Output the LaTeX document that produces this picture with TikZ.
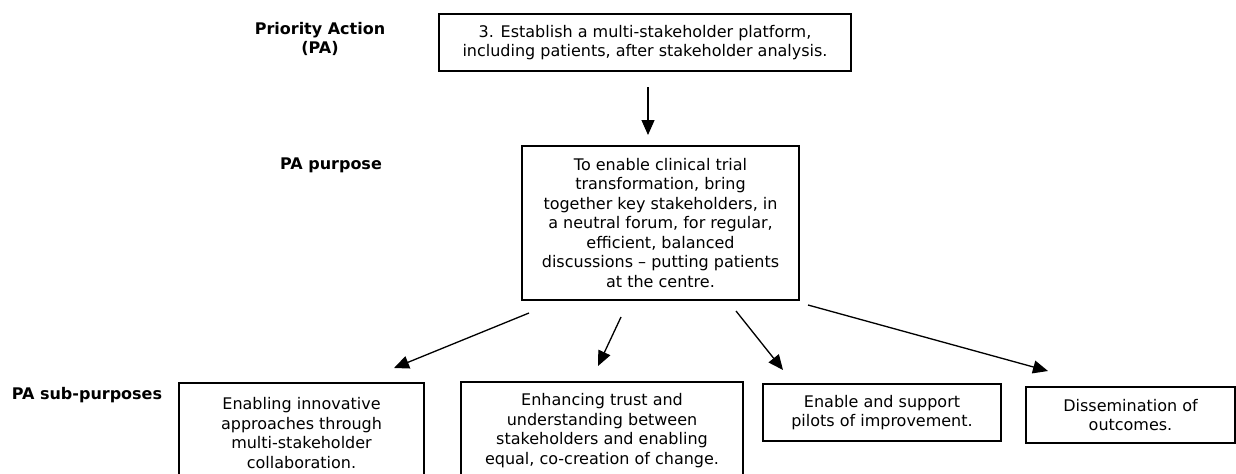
\documentclass[tikz,border=0pt]{standalone}
\usepackage{fontspec}
\setmainfont{DejaVu Sans}
\usetikzlibrary{arrows.meta}

\begin{document}
\begin{tikzpicture}[
    box/.style={draw,line width=1.1pt,align=center,inner sep=0pt,font=\fontsize{9.1}{11.1}\selectfont},
    lbl/.style={align=center,font=\fontsize{9.1}{11.1}\selectfont\bfseries},
    arr/.style={line width=0.75pt,-{Triangle[length=3mm,width=2.6mm]}}]
    \useasboundingbox (0,0) rectangle (24.72,9.46);
    \node[lbl]    (pa)        at (6.4,8.68)  {Priority Action\\(PA)};
    \node[lbl]    (pp)        at (6.62,6.16) {PA purpose};
    \node[lbl]    (ps)        at (1.74,1.56) {PA sub-purposes};
    \node[box,minimum width=8.24cm,minimum height=1.14cm] (top) at (12.9,8.61)
        {3. Establish a multi-stakeholder platform,\\including patients, after stakeholder analysis.};
    \node[box,minimum width=5.54cm,minimum height=3.08cm] (mid) at (13.21,5.0)
        {To enable clinical trial\\transformation, bring\\together key stakeholders, in\\a neutral forum, for regular,\\efficient, balanced\\discussions -- putting patients\\at the centre.};
    \node[box,minimum width=4.9cm,minimum height=2.0cm]   (sub1) at (6.03,0.8)
        {Enabling innovative\\approaches through\\multi-stakeholder\\collaboration.};
    \node[box,minimum width=5.64cm,minimum height=1.94cm] (sub2) at (12.04,0.85)
        {Enhancing trust and\\understanding between\\stakeholders and enabling\\equal, co-creation of change.};
    \node[box,minimum width=4.76cm,minimum height=1.14cm] (sub3) at (17.64,1.21)
        {Enable and support\\pilots of improvement.};
    \node[box,minimum width=4.18cm,minimum height=1.12cm] (sub4) at (22.61,1.16)
        {Dissemination of\\outcomes.};
    % arrow ends
    \coordinate (t0) at (12.96,7.72);
    \coordinate (h0) at (12.96,6.76);
    \coordinate (t1) at (10.58,3.2);
    \coordinate (h1) at (7.88,2.1);
    \coordinate (t2) at (12.42,3.12);
    \coordinate (h2) at (11.96,2.14);
    \coordinate (t3) at (14.72,3.24);
    \coordinate (h3) at (15.66,2.06);
    \coordinate (t4) at (16.16,3.36);
    \coordinate (h4) at (20.96,2.04);
    \foreach \i in {0,...,4}
        \draw[arr] (t\i) -- (h\i);
\end{tikzpicture}
\end{document}
